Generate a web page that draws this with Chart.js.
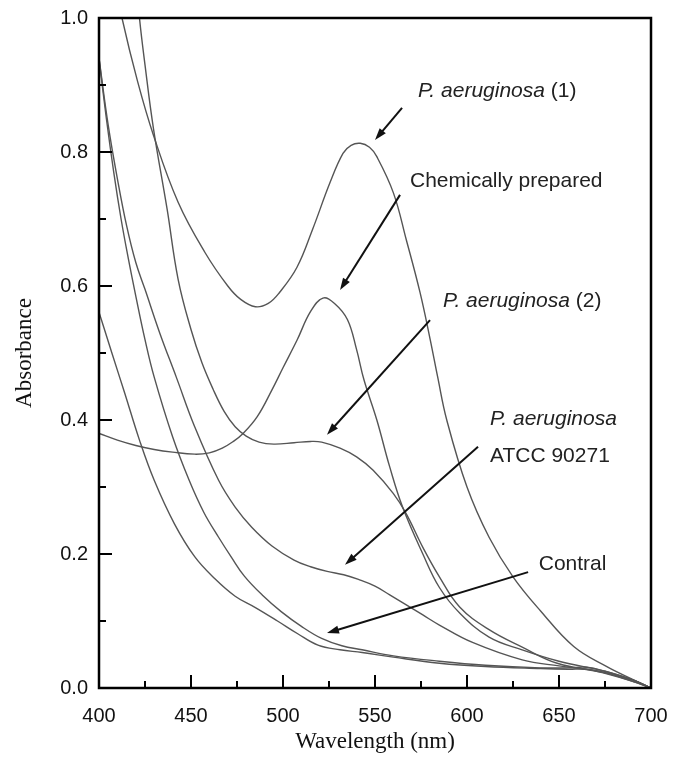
<!DOCTYPE html>
<html>
<head>
<meta charset="utf-8">
<script src="https://cdn.jsdelivr.net/npm/chart.js@4.4.1/dist/chart.umd.min.js"></script>
<style>
  html, body { margin: 0; padding: 0; background: #fff; }
  #wrap { width: 674px; height: 757px; position: relative; }
</style>
</head>
<body>
<div id="wrap"><canvas id="chart"></canvas></div>
<script>
// Spectra: wavelength (nm) / absorbance
const pa1Wl  = [410, 412.5, 421, 429.6, 443, 457.6, 470, 477, 485, 492, 498, 507.6, 516, 525.5, 532.6, 537, 542, 547, 551, 560, 567, 574.5, 580, 584, 589, 600, 612, 625, 640, 658, 676, 690, 700]
const pa1Abs = [1.04, 1.0, 0.905, 0.825, 0.725, 0.65, 0.60, 0.58, 0.569, 0.574, 0.59, 0.628, 0.684, 0.754, 0.798, 0.81, 0.813, 0.807, 0.793, 0.739, 0.669, 0.59, 0.52, 0.465, 0.40, 0.30, 0.225, 0.166, 0.115, 0.062, 0.032, 0.013, 0]

const chemWl  = [400, 410, 420, 430, 440, 452, 460, 467, 473, 478, 486, 494, 500, 507.6, 515, 521.7, 528, 535, 540, 544, 551, 558, 565, 576, 585, 596, 612, 630, 650, 675, 690, 700]
const chemAbs = [0.38, 0.37, 0.362, 0.356, 0.352, 0.349, 0.351, 0.358, 0.368, 0.379, 0.405, 0.445, 0.478, 0.519, 0.562, 0.582, 0.574, 0.55, 0.505, 0.46, 0.40, 0.33, 0.27, 0.20, 0.15, 0.112, 0.076, 0.057, 0.04, 0.025, 0.012, 0]

const pa2Wl  = [421, 422, 425, 429.6, 437, 443, 450, 456, 462, 468, 474, 480, 487, 495, 506, 515, 521, 531, 540, 549, 560, 567, 576, 585, 596, 612, 630, 649, 676, 690, 700]
const pa2Abs = [1.04, 1.0, 0.93, 0.835, 0.715, 0.61, 0.535, 0.485, 0.446, 0.413, 0.39, 0.376, 0.367, 0.364, 0.366, 0.368, 0.367, 0.358, 0.345, 0.325, 0.29, 0.26, 0.21, 0.166, 0.121, 0.087, 0.061, 0.037, 0.022, 0.012, 0]

const atccWl  = [400, 405, 410, 415, 420, 425, 433, 442, 452, 465, 474, 483, 494, 506, 515, 524, 533, 541, 550, 558, 567, 576, 585, 603, 630, 650, 672, 690, 700]
const atccAbs = [0.94, 0.84, 0.76, 0.69, 0.635, 0.595, 0.53, 0.464, 0.39, 0.31, 0.27, 0.24, 0.212, 0.191, 0.181, 0.174, 0.169, 0.162, 0.152, 0.139, 0.124, 0.109, 0.094, 0.068, 0.042, 0.033, 0.025, 0.01, 0]

const otherWl  = [400, 404, 408, 412, 416, 420, 425, 430, 440, 449, 457, 465, 472, 479, 489, 499, 510, 521, 532, 543, 560, 585, 610, 640, 655, 665, 675, 690, 700]
const otherAbs = [0.94, 0.85, 0.77, 0.70, 0.64, 0.585, 0.52, 0.464, 0.375, 0.31, 0.262, 0.225, 0.195, 0.167, 0.138, 0.114, 0.092, 0.074, 0.063, 0.057, 0.048, 0.040, 0.034, 0.030, 0.030, 0.031, 0.025, 0.012, 0]

const contralWl  = [400, 407, 414, 422, 430, 441, 452, 463, 474, 485, 497, 508, 519, 531, 543, 560, 585, 610, 640, 655, 665, 675, 690, 700]
const contralAbs = [0.561, 0.50, 0.44, 0.37, 0.31, 0.245, 0.196, 0.163, 0.137, 0.12, 0.10, 0.081, 0.064, 0.057, 0.053, 0.046, 0.037, 0.032, 0.029, 0.028, 0.028, 0.022, 0.01, 0]

const xTicks = [400, 450, 500, 550, 600, 650, 700]
const yTicks = [0.0, 0.2, 0.4, 0.6, 0.8, 1.0]

// labels: [text parts (italic?), x nm, y abs] ; arrows: [from nm, from abs, tip nm, tip abs]
const labels = [
  [[["P. aeruginosa", true], [" (1)", false]], 573.4, 0.882],
  [[["Chemically prepared", false]], 569, 0.748],
  [[["P. aeruginosa", true], [" (2)", false]], 587, 0.569],
  [[["P. aeruginosa", true]], 612.5, 0.393],
  [[["ATCC 90271", false]], 612.5, 0.337],
  [[["Contral", false]], 639, 0.176]
]
const arrows = [
  [564.7, 0.866, 550, 0.818],
  [563.6, 0.736, 531, 0.594],
  [579.9, 0.549, 523.9, 0.378],
  [606, 0.36, 533.7, 0.184],
  [633.2, 0.173, 523.9, 0.082]
]

const series = [
  [pa1Wl, pa1Abs], [chemWl, chemAbs], [pa2Wl, pa2Abs],
  [atccWl, atccAbs], [otherWl, otherAbs], [contralWl, contralAbs]
]

const SANS = "'Liberation Sans', Arial, sans-serif"
const SERIF = "'Liberation Serif', 'Times New Roman', serif"

const framePlugin = {
  id: "frame",
  afterDatasetsDraw(chart) {
    const { ctx, chartArea: a, scales: { x, y } } = chart
    ctx.save()
    ctx.strokeStyle = "#000"
    ctx.lineWidth = 2.5
    ctx.strokeRect(a.left, a.top, a.right - a.left, a.bottom - a.top)

    // inward ticks, major + minor
    ctx.lineWidth = 2
    ctx.beginPath()
    for (let v = 400; v <= 700; v += 25) {
      const px = x.getPixelForValue(v)
      const len = v % 50 === 0 ? 13 : 7
      ctx.moveTo(px, a.bottom)
      ctx.lineTo(px, a.bottom - len)
    }
    for (let i = 0; i <= 10; i++) {
      const py = y.getPixelForValue(i / 10)
      const len = i % 2 === 0 ? 13 : 7
      ctx.moveTo(a.left, py)
      ctx.lineTo(a.left + len, py)
    }
    ctx.stroke()

    // arrows
    ctx.strokeStyle = "#111"
    ctx.fillStyle = "#111"
    ctx.lineWidth = 2
    arrows.forEach(([x1, y1, x2, y2]) => {
      const sx = x.getPixelForValue(x1), sy = y.getPixelForValue(y1)
      const tx = x.getPixelForValue(x2), ty = y.getPixelForValue(y2)
      const ang = Math.atan2(ty - sy, tx - sx)
      const c = Math.cos(ang), s = Math.sin(ang)
      ctx.beginPath()
      ctx.moveTo(sx, sy)
      ctx.lineTo(tx - 8 * c, ty - 8 * s)
      ctx.stroke()
      ctx.beginPath()
      ctx.moveTo(tx, ty)
      ctx.lineTo(tx - 12 * c + 4 * s, ty - 12 * s - 4 * c)
      ctx.lineTo(tx - 12 * c - 4 * s, ty - 12 * s + 4 * c)
      ctx.closePath()
      ctx.fill()
    })

    // annotation text
    ctx.fillStyle = "#222"
    ctx.textBaseline = "alphabetic"
    ctx.textAlign = "left"
    labels.forEach(([parts, lx, ly]) => {
      let px = x.getPixelForValue(lx)
      const py = y.getPixelForValue(ly)
      parts.forEach(([t, italic]) => {
        ctx.font = (italic ? "italic " : "") + "21px " + SANS
        ctx.fillText(t, px, py)
        px += ctx.measureText(t).width
      })
    })
    ctx.restore()
  }
}

new Chart(document.getElementById("chart"), {
  type: "line",
  data: {
    datasets: series.map(([wl, abs]) => ({
      data: wl.map((w, i) => ({ x: w, y: abs[i] })),
      borderColor: "#555",
      borderWidth: 1.4,
      pointRadius: 0,
      tension: 0.4,
      fill: false
    }))
  },
  options: {
    responsive: true,
    maintainAspectRatio: false,
    animation: false,
    layout: { padding: { top: 18, right: 23, left: 0, bottom: 0 } },
    plugins: { legend: { display: false }, tooltip: { enabled: false } },
    scales: {
      x: {
        type: "linear",
        min: 400,
        max: 700,
        afterBuildTicks: s => { s.ticks = xTicks.map(v => ({ value: v })) },
        afterFit: s => { s.height = 69; s.paddingLeft = 0; s.paddingRight = 0 },
        ticks: { color: "#111", font: { family: SANS, size: 20 }, padding: 16, maxRotation: 0 },
        grid: { display: false, drawTicks: false },
        border: { display: false },
        title: { display: true, text: "Wavelength (nm)", color: "#111", font: { family: SERIF, size: 23 }, padding: { top: 0, bottom: 1 } }
      },
      y: {
        min: 0,
        max: 1,
        afterBuildTicks: s => { s.ticks = yTicks.map(v => ({ value: v })) },
        afterFit: s => { s.width = 99; s.paddingTop = 0; s.paddingBottom = 0 },
        ticks: { color: "#111", font: { family: SANS, size: 20 }, padding: 11, callback: v => v.toFixed(1) },
        grid: { display: false, drawTicks: false },
        border: { display: false },
        title: { display: true, text: "Absorbance", color: "#111", font: { family: SERIF, size: 23 }, padding: { top: 11, bottom: 0 } }
      }
    }
  },
  plugins: [framePlugin]
})
</script>
</body>
</html>
